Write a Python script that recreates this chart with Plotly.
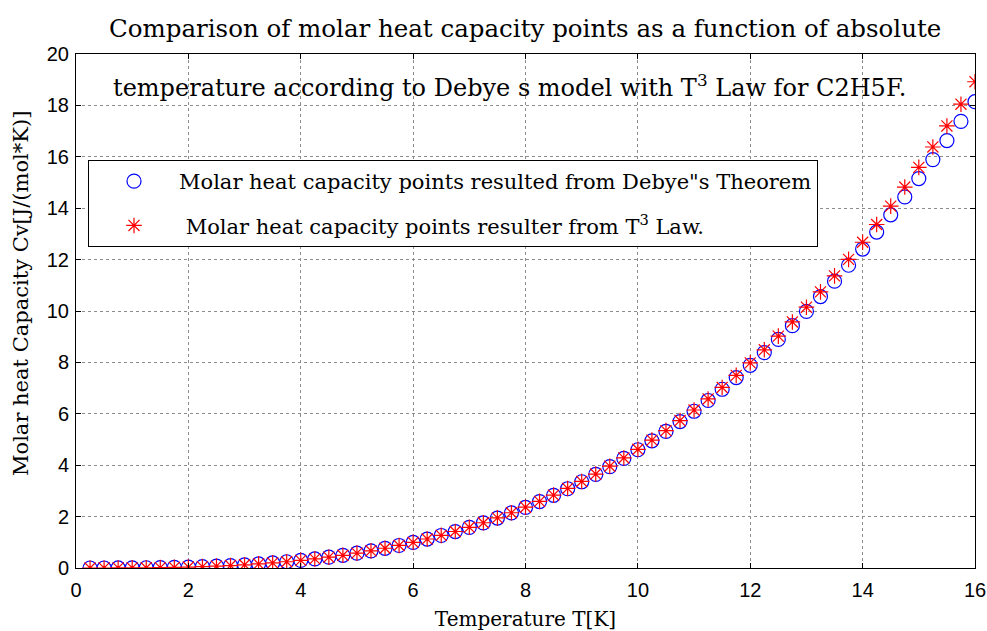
import plotly.graph_objects as go

# Temperature points T [K]
temperature = [0.25, 0.5, 0.75, 1.0, 1.25, 1.5, 1.75, 2.0, 2.25, 2.5, 2.75, 3.0, 3.25, 3.5, 3.75, 4.0,
               4.25, 4.5, 4.75, 5.0, 5.25, 5.5, 5.75, 6.0, 6.25, 6.5, 6.75, 7.0, 7.25, 7.5, 7.75, 8.0,
               8.25, 8.5, 8.75, 9.0, 9.25, 9.5, 9.75, 10.0, 10.25, 10.5, 10.75, 11.0, 11.25, 11.5, 11.75, 12.0,
               12.25, 12.5, 12.75, 13.0, 13.25, 13.5, 13.75, 14.0, 14.25, 14.5, 14.75, 15.0, 15.25, 15.5, 15.75, 16.0]

# Molar heat capacity from Debye's theorem [J/(mol*K)]
cv_debye = [0.0001, 0.0006, 0.0019, 0.0046, 0.0090, 0.0156, 0.0247, 0.0369, 0.0525, 0.0720, 0.0959, 0.1244,
            0.1582, 0.1976, 0.2430, 0.2949, 0.3538, 0.4199, 0.4938, 0.5760, 0.6668, 0.7666, 0.8759, 0.9952,
            1.1248, 1.2652, 1.4168, 1.5801, 1.7554, 1.9431, 2.1437, 2.3577, 2.5855, 2.8275, 3.0840, 3.3556,
            3.6425, 3.9454, 4.2645, 4.601, 4.949, 5.315, 5.698, 6.099, 6.518, 6.955, 7.411, 7.886,
            8.381, 8.896, 9.430, 9.986, 10.563, 11.160, 11.780, 12.409, 13.072, 13.744, 14.438, 15.153,
            15.891, 16.633, 17.379, 18.144]

# Molar heat capacity from T^3 law [J/(mol*K)]
cv_t3 = [0.0001, 0.0006, 0.0019, 0.0046, 0.0090, 0.0156, 0.0248, 0.0370, 0.0526, 0.0722, 0.0961, 0.1247,
         0.1586, 0.1980, 0.2436, 0.2956, 0.3546, 0.4209, 0.4950, 0.5774, 0.6684, 0.7685, 0.8781, 0.9977,
         1.1277, 1.2685, 1.4206, 1.5844, 1.7603, 1.9487, 2.1501, 2.3650, 2.5937, 2.8367, 3.0945, 3.3673,
         3.6558, 3.9603, 4.2813, 4.6191, 4.9743, 5.3472, 5.7383, 6.1481, 6.5769, 7.0251, 7.4934, 7.9819,
         8.4912, 9.0218, 9.5740, 10.1483, 10.7451, 11.3648, 12.0080, 12.6750, 13.3662, 14.0821, 14.8231, 15.5896,
         16.3821, 17.2010, 18.0469, 18.92]

x_ticks = [0, 2, 4, 6, 8, 10, 12, 14, 16]
y_ticks = [0, 2, 4, 6, 8, 10, 12, 14, 16, 18, 20]

title_line1 = "Comparison of molar heat capacity points as a function of absolute"
title_line2 = "temperature according to Debye s model with T<sup>3</sup> Law for C2H5F."
label_debye = "Molar heat capacity points resulted from Debye\"s Theorem"
label_t3 = " Molar heat capacity points resulter from T<sup>3</sup> Law."
x_title = "Temperature T[K]"
y_title = "Molar heat Capacity Cv[J/(mol*K)]"

SERIF = "DejaVu Serif, Liberation Serif, serif"
SANS = "Liberation Sans, Arial, sans-serif"

# plot area in pixels
L, R, T, B = 76, 975, 54, 568
PW, PH = R - L, B - T

fig = go.Figure()
fig.add_trace(go.Scatter(
    x=temperature, y=cv_debye, mode="markers", name=label_debye, legendgroup="a",
    marker=dict(symbol="circle-open", size=14, color="#0000ff", line=dict(width=1.2, color="#0000ff")),
))
fig.add_trace(go.Scatter(
    x=temperature, y=cv_t3, mode="markers", name=label_t3, legendgroup="b",
    marker=dict(symbol="asterisk-open", size=13, color="#ff0000", line=dict(width=1.2, color="#ff0000")),
))

axis_common = dict(
    showline=True, linecolor="black", linewidth=1, mirror="allticks",
    ticks="inside", ticklen=5, tickcolor="black", tickwidth=1,
    showgrid=True, gridcolor="#8c8c8c", griddash="dot", gridwidth=1,
    zeroline=False, tickfont=dict(family=SANS, size=20, color="black"),
    automargin=False,
)

fig.update_xaxes(range=[0, 16], tickvals=x_ticks, ticktext=[str(v) for v in x_ticks],
                 ticklabelstandoff=4,
                 title=dict(text=x_title, font=dict(family=SERIF, size=20, color="black"), standoff=14),
                 **axis_common)
fig.update_yaxes(range=[0, 20], tickvals=y_ticks, ticktext=[str(v) for v in y_ticks],
                 ticklabelstandoff=2,
                 **axis_common)

fig.add_annotation(text=y_title, xref="paper", yref="paper", x=(21 - L) / PW, y=(B - 294) / PH,
                   xanchor="center", yanchor="middle", showarrow=False, textangle=-90,
                   font=dict(family=SERIF, size=21, color="black"))

fig.add_annotation(text=title_line1, xref="paper", yref="paper", x=(525 - L) / PW, y=(B - 29) / PH,
                   xanchor="center", yanchor="middle", showarrow=False,
                   font=dict(family=SERIF, size=24.5, color="black"))
fig.add_annotation(text=title_line2, xref="paper", yref="paper", x=(509 - L) / PW, y=(B - 86) / PH,
                   xanchor="center", yanchor="middle", showarrow=False,
                   font=dict(family=SERIF, size=24, color="black"))

fig.update_layout(
    width=987, height=631,
    margin=dict(l=L, r=987 - R, t=T, b=631 - B),
    paper_bgcolor="white", plot_bgcolor="white",
    showlegend=True,
    legend=dict(x=(88 - L) / PW, y=(B - 160) / PH, xanchor="left", yanchor="top",
                bgcolor="white", bordercolor="black", borderwidth=1,
                font=dict(family=SERIF, size=21, color="black"),
                itemwidth=80, traceorder="grouped", tracegroupgap=14),
)

fig.write_html("out.html")
